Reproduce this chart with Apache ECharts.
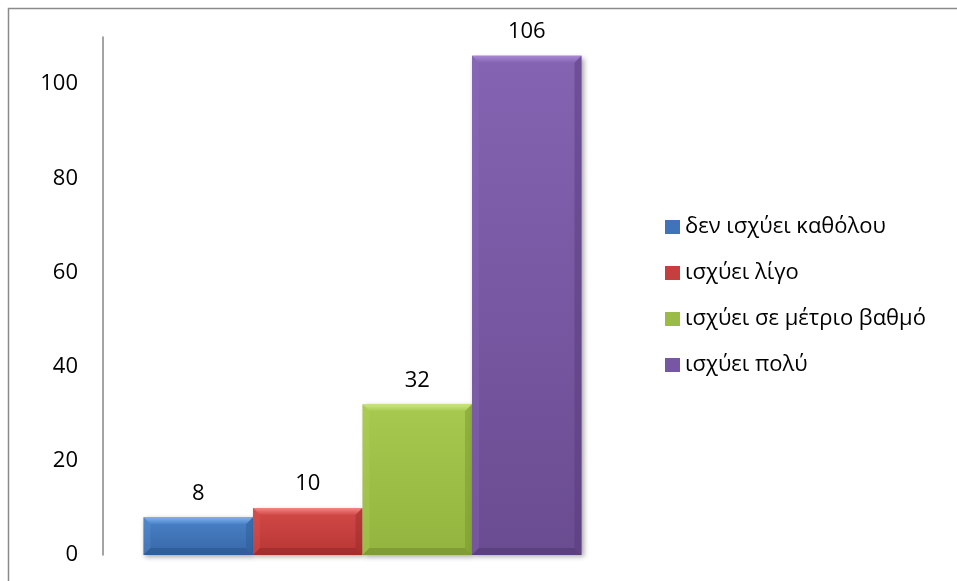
<!DOCTYPE html>
<html>
<head>
<meta charset="utf-8">
<style>
  html, body { margin: 0; padding: 0; background: #ffffff; }
  #chart { width: 957px; height: 581px; }
</style>
<script src="https://cdn.jsdelivr.net/npm/echarts@6/dist/echarts.min.js"></script>
</head>
<body>
<div id="chart"></div>
<script>
// Answers to one survey item, counted per response option
const categories = [''];
const seriesNames = ['δεν ισχύει καθόλου', 'ισχύει λίγο', 'ισχύει σε μέτριο βαθμό', 'ισχύει πολύ'];
const seriesValues = [[8], [10], [32], [106]];
const yTicks = [0, 20, 40, 60, 80, 100];

// Face, highlight and shade colours for each bevelled bar
const palette = [
  { face: ['#4a82c8', '#3767a8'], top: '#7fb3ee', left: '#5f96d8', right: '#2d5a93', bottom: '#2b568c', legend: '#3f74ba' },
  { face: ['#d24a48', '#b83634'], top: '#f28886', left: '#de5b59', right: '#972b29', bottom: '#8f2a28', legend: '#c43f3d' },
  { face: ['#a7c94f', '#93b43e'], top: '#cbe77e', left: '#b3d25f', right: '#769330', bottom: '#70892d', legend: '#9bbb47' },
  { face: ['#8463b2', '#6a4c91'], top: '#a887d4', left: '#8f6ebd', right: '#533976', bottom: '#4f3770', legend: '#7757a3' }
];

const FONT = '"Open Sans", "Noto Sans", sans-serif';
const FONT_SIZE = 22;
const groupFraction = 0.844;   // share of the category band taken by the four bars
const bevel = 7;

function makeRenderer(idx) {
  return function (params, api) {
    const value = api.value(1);
    const cat = api.value(0);
    const base = api.coord([cat, 0]);
    const top = api.coord([cat, value]);
    const band = api.size([1, 0])[0];
    const groupW = band * groupFraction;
    const barW = groupW / seriesNames.length;
    const x = base[0] - groupW / 2 + idx * barW;
    const y = top[1];
    const w = barW;
    const h = base[1] - top[1];
    const b = Math.min(bevel, h / 2, w / 2);
    const c = palette[idx];
    return {
      type: 'group',
      children: [
        {
          type: 'rect',
          shape: { x: x, y: y, width: w, height: h },
          style: {
            fill: { type: 'linear', x: 0, y: 0, x2: 0, y2: 1, colorStops: [
              { offset: 0, color: c.face[0] }, { offset: 1, color: c.face[1] }] },
            shadowBlur: 5, shadowOffsetX: 2, shadowOffsetY: 2, shadowColor: 'rgba(0,0,0,0.35)'
          }
        },
        { type: 'polygon', shape: { points: [[x, y], [x + w, y], [x + w - b, y + b], [x + b, y + b]] },
          style: { fill: { type: 'linear', x: 0, y: 0, x2: 0, y2: 1, colorStops: [
            { offset: 0, color: c.top }, { offset: 1, color: c.face[0] }] } } },
        { type: 'polygon', shape: { points: [[x, y], [x + b, y + b], [x + b, y + h - b], [x, y + h]] }, style: { fill: c.left, opacity: 0.3 } },
        { type: 'polygon', shape: { points: [[x + w, y], [x + w, y + h], [x + w - b, y + h - b], [x + w - b, y + b]] }, style: { fill: c.right, opacity: 0.45 } },
        { type: 'polygon', shape: { points: [[x, y + h], [x + b, y + h - b], [x + w - b, y + h - b], [x + w, y + h]] }, style: { fill: c.bottom, opacity: 0.55 } },
        {
          type: 'text',
          style: {
            text: String(value), x: x + w / 2, y: y - 13,
            align: 'center', verticalAlign: 'bottom',
            font: FONT_SIZE + 'px ' + FONT, fill: '#000000'
          }
        }
      ]
    };
  };
}

const series = seriesNames.map(function (name, i) {
  return {
    type: 'custom',
    name: name,
    renderItem: makeRenderer(i),
    encode: { x: 0, y: 1 },
    itemStyle: { color: palette[i].legend },
    data: categories.map(function (cat, j) { return [j, seriesValues[i][j]]; })
  };
});

const chart = echarts.init(document.getElementById('chart'), null, { renderer: 'canvas' });
chart.setOption({
  backgroundColor: '#ffffff',
  animation: false,
  graphic: [{
    type: 'rect',
    shape: { x: 8.5, y: 8.5, width: 1200, height: 1200 },
    style: { fill: 'none', stroke: '#8a8a8a', lineWidth: 1.5 },
    silent: true
  }],
  grid: { left: 103, right: 335, top: 37, bottom: 26, containLabel: false },
  legend: {
    orient: 'vertical',
    left: 665,
    top: 214,
    padding: 0,
    icon: 'rect',
    itemWidth: 15,
    itemHeight: 14,
    itemGap: 20,
    textStyle: { fontFamily: FONT, fontSize: FONT_SIZE, color: '#000000', lineHeight: 26 },
    data: seriesNames
  },
  xAxis: {
    type: 'category',
    data: categories,
    axisLine: { show: false },
    axisTick: { show: false },
    axisLabel: { show: false }
  },
  yAxis: {
    type: 'value',
    min: 0,
    max: 110,
    interval: 20,
    axisLine: { show: true, lineStyle: { color: '#868686', width: 1.5 } },
    axisTick: { show: false },
    splitLine: { show: false },
    axisLabel: {
      fontFamily: FONT, fontSize: FONT_SIZE, color: '#000000', margin: 25,
      showMaxLabel: false,
      formatter: function (v) { return yTicks.indexOf(v) >= 0 ? String(v) : ''; }
    }
  },
  series: series
});
</script>
</body>
</html>
